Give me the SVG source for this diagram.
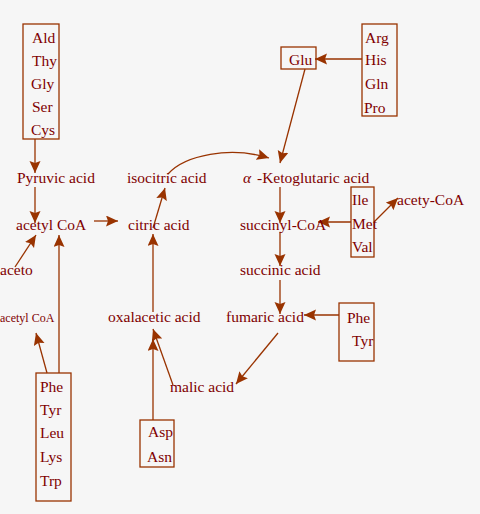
<svg xmlns="http://www.w3.org/2000/svg" width="480" height="514" viewBox="0 0 480 514">
<defs>
<style>
.t{font-family:"Liberation Serif","Times New Roman",serif;font-size:15.5px;fill:#800000}
.s{font-size:12px}
.box{fill:none;stroke:#993300;stroke-width:1.3}
.c{fill:none;stroke:#993300;stroke-width:1.3}
</style>
<marker id="ah" markerUnits="userSpaceOnUse" markerWidth="13" markerHeight="12" viewBox="0 0 13 12" refX="12" refY="5.5" orient="auto">
<path d="M0,0 L12,5.5 L0,11 L2,5.5 z" fill="#993300"/>
</marker>
</defs>
<rect width="480" height="514" fill="#f6f6f6"/>
<g id="connectors">
<path class="c" marker-end="url(#ah)" d="M35,139 L35,173"/>
<path class="c" marker-end="url(#ah)" d="M35,187 L35,223"/>
<path class="c" marker-end="url(#ah)" d="M94,221 L118,221"/>
<path class="c" marker-end="url(#ah)" d="M153,228 L165,188"/>
<path class="c" marker-end="url(#ah)" d="M168,174 C185,155 230,146 269,158"/>
<path class="c" marker-end="url(#ah)" d="M305,69 L280,163"/>
<path class="c" marker-end="url(#ah)" d="M362,59 L315,59"/>
<path class="c" marker-end="url(#ah)" d="M280,187 L280,223"/>
<path class="c" marker-end="url(#ah)" d="M351,222 L318,222"/>
<path class="c" marker-end="url(#ah)" d="M374,222 L398,198"/>
<path class="c" marker-end="url(#ah)" d="M280,232 L280,266"/>
<path class="c" marker-end="url(#ah)" d="M280,280 L280,314"/>
<path class="c" marker-end="url(#ah)" d="M339,315 L304,315"/>
<path class="c" marker-end="url(#ah)" d="M278,333 L236,384"/>
<path class="c" marker-end="url(#ah)" d="M173,385 L153,329"/>
<path class="c" marker-end="url(#ah)" d="M153,420 L153,339"/>
<path class="c" marker-end="url(#ah)" d="M153,312 L153,234"/>
<path class="c" marker-end="url(#ah)" d="M59,373 L59,235"/>
<path class="c" marker-end="url(#ah)" d="M47,373 L36,333"/>
<path class="c" marker-end="url(#ah)" d="M15,267 L36,235"/>
</g>
<g id="aa1">
<rect class="box" x="23" y="24" width="36" height="115"/>
<text class="t" x="32" y="43">Ald</text>
<text class="t" x="32" y="66">Thy</text>
<text class="t" x="31" y="89">Gly</text>
<text class="t" x="32" y="112">Ser</text>
<text class="t" x="31" y="135">Cys</text>
</g>
<g id="pyruvic"><text class="t" x="17" y="183">Pyruvic acid</text></g>
<g id="acetylcoa"><text class="t" x="16" y="230">acetyl CoA</text></g>
<g id="aceto"><text class="t" x="0" y="275">aceto</text></g>
<g id="acetylcoa2"><text class="t s" x="0" y="322">acetyl CoA</text></g>
<g id="aa2">
<rect class="box" x="36" y="373" width="35" height="128"/>
<text class="t" x="40" y="392">Phe</text>
<text class="t" x="40" y="415">Tyr</text>
<text class="t" x="40" y="438">Leu</text>
<text class="t" x="40" y="462">Lys</text>
<text class="t" x="40" y="486">Trp</text>
</g>
<g id="isocitric"><text class="t" x="127" y="183">isocitric acid</text></g>
<g id="citric"><text class="t" x="128" y="230">citric acid</text></g>
<g id="oxalacetic"><text class="t" x="108" y="322">oxalacetic acid</text></g>
<g id="malic"><text class="t" x="170" y="392">malic acid</text></g>
<g id="aa3">
<rect class="box" x="140" y="420" width="34" height="47"/>
<text class="t" x="148" y="437">Asp</text>
<text class="t" x="147" y="462">Asn</text>
</g>
<g id="glu">
<rect class="box" x="281" y="47" width="35" height="22"/>
<text class="t" x="289" y="65">Glu</text>
</g>
<g id="aa4">
<rect class="box" x="362" y="24" width="35" height="92"/>
<text class="t" x="365" y="43">Arg</text>
<text class="t" x="365" y="65">His</text>
<text class="t" x="365" y="89">Gln</text>
<text class="t" x="364" y="113">Pro</text>
</g>
<g id="ketoglutaric"><text class="t" x="243" y="183"><tspan font-style="italic">α</tspan><tspan x="257">-Ketoglutaric acid</tspan></text></g>
<g id="succinylcoa"><text class="t" x="240" y="230">succinyl-CoA</text></g>
<g id="aa5">
<rect class="box" x="351" y="187" width="23" height="70"/>
<text class="t" x="352" y="205">Ile</text>
<text class="t" x="352" y="229">Met</text>
<text class="t" x="352" y="252">Val</text>
</g>
<g id="acetycoa"><text class="t" x="397" y="205">acety-CoA</text></g>
<g id="succinic"><text class="t" x="240" y="275">succinic acid</text></g>
<g id="fumaric"><text class="t" x="226" y="322">fumaric acid</text></g>
<g id="aa6">
<rect class="box" x="339" y="303" width="35" height="58"/>
<text class="t" x="347" y="323">Phe</text>
<text class="t" x="352" y="346">Tyr</text>
</g>
</svg>
